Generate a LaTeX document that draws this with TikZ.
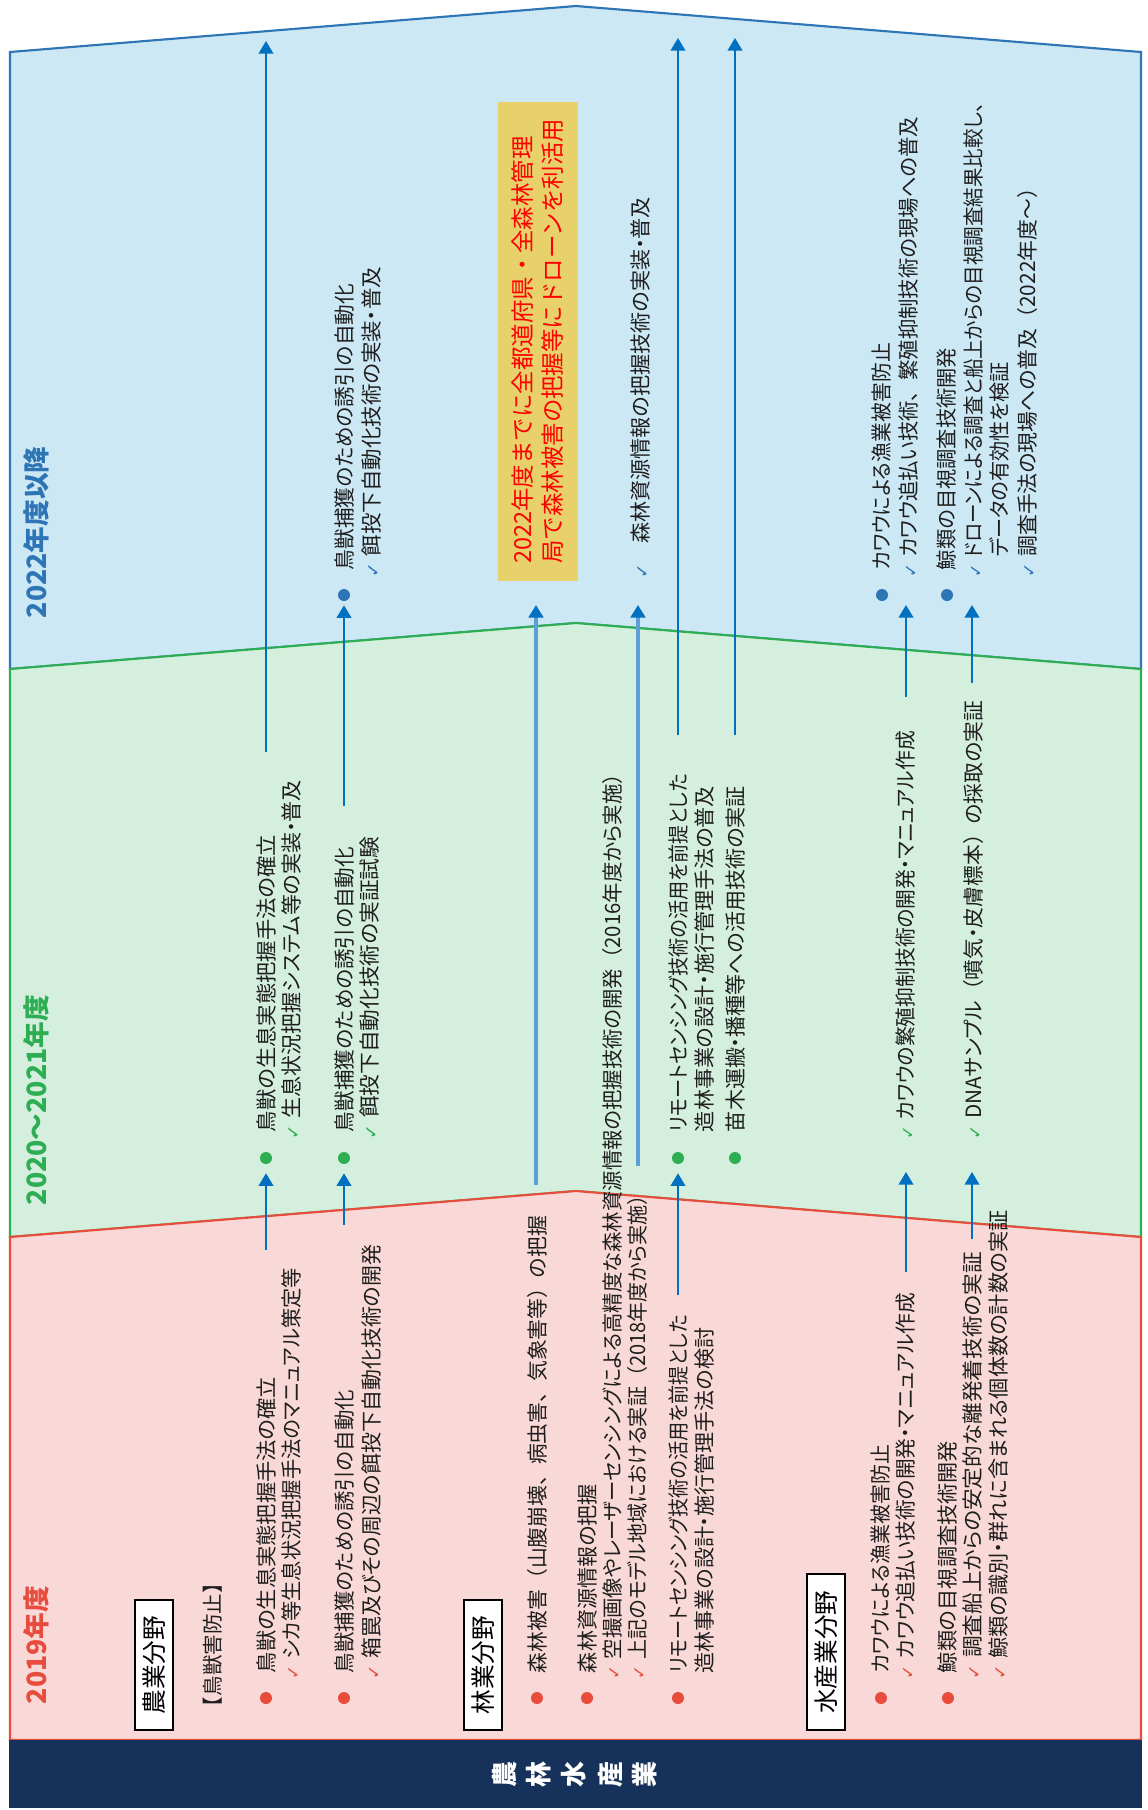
\documentclass[tikz,border=0pt]{standalone}
\usepackage{fontspec}
\usepackage{graphicx}
\newfontfamily\jp{Noto Sans CJK JP}
\newfontfamily\jpp{Noto Sans CJK JP}[RawFeature={+palt}]
\newfontfamily\dv{DejaVu Sans}
\usetikzlibrary{arrows.meta}
\definecolor{bluefill}{HTML}{CDE8F5}
\definecolor{blueline}{HTML}{2E75B6}
\definecolor{greenfill}{HTML}{D5EFDF}
\definecolor{greenline}{HTML}{2EAE52}
\definecolor{redfill}{HTML}{F9D9D7}
\definecolor{redline}{HTML}{E84C3D}
\definecolor{navyband}{HTML}{17325A}
\definecolor{arrowblue}{HTML}{0070C0}
\definecolor{arrowlight}{HTML}{5B9FD6}
\definecolor{boxyellow}{HTML}{E8D06A}
\definecolor{txtc}{HTML}{1E1E1E}
\newdimen\pxu \pxu=0.75pt
\newcommand{\fitpx}[2]{\resizebox{#1\pxu}{\height}{#2}}
\newcommand{\ckm}[1]{{\dv\fontsize{13}{13}\selectfont\color{#1}✓}\hspace{4.5pt}}
\newcommand{\ckph}{\hphantom{{\dv\fontsize{13}{13}\selectfont ✓}\hspace{4.5pt}}}
\newcommand{\fwlp}{{\jp （}}
\newcommand{\fwrp}{{\jp ）}}
\newcommand{\fwc}{{\jp 、}}
\begin{document}
\begin{tikzpicture}[x=0.75pt,y=-0.75pt,
  line/.style={rotate=90,anchor=west,inner sep=0pt,outer sep=0pt,text=txtc,font=\jpp\fontsize{15.8}{18}\selectfont},
  year/.style={rotate=90,anchor=west,inner sep=0pt,outer sep=0pt,font=\jp\bfseries\fontsize{20}{24}\selectfont},
  fieldbox/.style={rotate=90,anchor=west,draw=black,line width=1.3pt,fill=white,minimum height=28.5pt,inner sep=0pt,text=black,font=\jp\fontsize{18.5}{22}\selectfont},
  ybox/.style={rotate=90,anchor=west,fill=boxyellow,inner sep=0pt,minimum width=359pt,minimum height=60pt,align=left,text=red,font=\jp\fontsize{17.6}{22.5}\selectfont},
  bul/.style={circle,inner sep=0pt,minimum size=9pt},
  navyt/.style={rotate=90,inner sep=0pt,text=white,font=\jp\bfseries\fontsize{19.5}{19.5}\selectfont},
  arr/.style={draw=arrowblue,line width=1.5pt,-{Triangle[width=11pt,length=9.5pt]}},
  arrl/.style={draw=arrowlight,line width=3pt,-{Triangle[width=11pt,length=9.5pt,color=arrowblue]}},
  region/.style={line width=1.6pt,line join=miter}
]
\useasboundingbox (0,0) rectangle (1147,1810);

% regions
\draw[region,fill=bluefill,draw=blueline] (10,52) -- (576,6) -- (1141,52) -- (1141,669) -- (576,623) -- (10,669) -- cycle;
\draw[region,fill=greenfill,draw=greenline] (10,669) -- (576,623) -- (1141,669) -- (1141,1237) -- (576,1191) -- (10,1237) -- cycle;
\draw[region,fill=redfill,draw=redline] (10,1237) -- (576,1191) -- (1141,1237) -- (1141,1740) -- (10,1740) -- cycle;
\fill[navyband] (9,1740) rectangle (1142,1808);

% bullets
\node[bul,fill=redline] (rb1) at (266,1698) {};
\node[bul,fill=redline] (rb2) at (344,1698) {};
\node[bul,fill=redline] (rb3) at (537,1698) {};
\node[bul,fill=redline] (rb4) at (587,1698) {};
\node[bul,fill=redline] (rb5) at (678,1698) {};
\node[bul,fill=redline] (rb6) at (881,1698) {};
\node[bul,fill=redline] (rb7) at (948,1698) {};
\node[bul,fill=greenline] (gb1) at (266,1158) {};
\node[bul,fill=greenline] (gb2) at (344,1158) {};
\node[bul,fill=greenline] (gb3) at (678,1158) {};
\node[bul,fill=greenline] (gb4) at (735,1158) {};
\node[bul,fill=blueline] (bb1) at (344,595) {};
\node[bul,fill=blueline] (bb2) at (882,595) {};
\node[bul,fill=blueline] (bb3) at (947,595) {};

% arrow end coordinates
\coordinate (a1s) at (266,1250);
\coordinate (a1m) at (266,752);
\coordinate (a1t) at (266,41);
\coordinate (a2s) at (344,1225);
\coordinate (a2m) at (344,806);
\coordinate (a3s) at (536,1185);
\coordinate (a3t) at (536,605);
\coordinate (a4s) at (638,1166);
\coordinate (a4t) at (638,605);
\coordinate (a5s) at (678,1295);
\coordinate (a5m) at (678,735);
\coordinate (a5t) at (678,38);
\coordinate (a6s) at (735,735);
\coordinate (a6t) at (735,38);
\coordinate (a7s) at (906,1272);
\coordinate (a7m) at (906,1172);
\coordinate (a7n) at (906,697);
\coordinate (a7t) at (906,605);
\coordinate (a8s) at (972,1239);
\coordinate (a8m) at (972,1172);
\coordinate (a8n) at (972,683);
\coordinate (a8t) at (972,605);

% arrows
\draw[arr,shorten >=6.75pt] (a1s) -- (gb1);
\draw[arr] (a1m) -- (a1t);
\draw[arr,shorten >=6.75pt] (a2s) -- (gb2);
\draw[arr,shorten >=3pt] (a2m) -- (bb1);
\draw[arrl] (a3s) -- (a3t);
\draw[arrl] (a4s) -- (a4t);
\draw[arr,shorten >=6.75pt] (a5s) -- (gb3);
\draw[arr] (a5m) -- (a5t);
\draw[arr] (a6s) -- (a6t);
\draw[arr] (a7s) -- (a7m);
\draw[arr] (a7n) -- (a7t);
\draw[arr] (a8s) -- (a8m);
\draw[arr] (a8n) -- (a8t);

% 2019
\node[year,text=redline] (y19) at (36,1704) {2019年度};
\node[fieldbox,minimum width=97.5pt] (f1) at (154,1731) {農業分野};
\node[line,font=\jp\fontsize{15.4}{18}\selectfont] (r0) at (213,1717) {【鳥獣害防止】};
\node[line] (r1) at (266,1673) {\fitpx{296}{鳥獣の生息実態把握手法の確立}};
\node[line] (r1c) at (291,1679) {\fitpx{411}{\ckm{redline}シカ等生息状況把握手法のマニュアル策定等}};
\node[line] (r2) at (344,1673) {\fitpx{283}{鳥獣捕獲のための誘引の自動化}};
\node[line] (r2c) at (372,1679) {\fitpx{434}{\ckm{redline}箱罠及びその周辺の餌投下自動化技術の開発}};
\node[fieldbox,minimum width=97.5pt] (f2) at (483,1731) {林業分野};
\node[line] (r3) at (537,1673) {\fitpx{457}{森林被害\fwlp 山腹崩壊\fwc 病虫害\fwc 気象害等\fwrp の把握}};
\node[line] (r4) at (587,1673) {\fitpx{189}{森林資源情報の把握}};
\node[line] (r4c) at (612,1679) {\fitpx{915}{\ckm{redline}空撮画像やレーザーセンシングによる高精度な森林資源情報の把握技術の開発\fwlp 2016年度から実施\fwrp}};
\node[line] (r4d) at (637,1679) {\fitpx{494}{\ckm{redline}上記のモデル地域における実証\fwlp 2018年度から実施\fwrp}};
\node[line] (r5) at (678,1673) {\fitpx{358}{リモートセンシング技術の活用を前提とした}};
\node[line] (r5b) at (704,1673) {\fitpx{345}{造林事業の設計・施行管理手法の検討}};
\node[fieldbox,minimum width=117pt] (f3) at (826,1731) {水産業分野};
\node[line] (r6) at (881,1673) {\fitpx{228}{カワウによる漁業被害防止}};
\node[line] (r6c) at (906,1679) {\fitpx{386}{\ckm{redline}カワウ追払い技術の開発・マニュアル作成}};
\node[line] (r7) at (948,1673) {\fitpx{232}{鯨類の目視調査技術開発}};
\node[line] (r7c) at (973,1679) {\fitpx{427}{\ckm{redline}調査船上からの安定的な離発着技術の実証}};
\node[line] (r7d) at (999,1679) {\fitpx{469}{\ckm{redline}鯨類の識別・群れに含まれる個体数の計数の実証}};

% 2020-2021
\node[year,text=greenline] (y20) at (36,1205) {2020～2021年度};
\node[line] (g1) at (266,1132) {\fitpx{297}{鳥獣の生息実態把握手法の確立}};
\node[line] (g1c) at (291,1139) {\fitpx{359}{\ckm{greenline}生息状況把握システム等の実装・普及}};
\node[line] (g2) at (344,1132) {\fitpx{285}{鳥獣捕獲のための誘引の自動化}};
\node[line] (g2c) at (370,1139) {\fitpx{302}{\ckm{greenline}餌投下自動化技術の実証試験}};
\node[line] (g3) at (678,1132) {\fitpx{358}{リモートセンシング技術の活用を前提とした}};
\node[line] (g3b) at (704,1132) {\fitpx{346}{造林事業の設計・施行管理手法の普及}};
\node[line] (g4) at (735,1132) {\fitpx{346}{苗木運搬・播種等への活用技術の実証}};
\node[line] (g5c) at (906,1139) {\fitpx{408}{\ckm{greenline}カワウの繁殖抑制技術の開発・マニュアル作成}};
\node[line] (g6c) at (973,1139) {\fitpx{438}{\ckm{greenline}DNAサンプル\fwlp 噴気・皮膚標本\fwrp の採取の実証}};

% 2022-
\node[year,text=blueline] (y22) at (36,618) {2022年度以降};
\node[line] (b1) at (344,570) {\fitpx{286}{鳥獣捕獲のための誘引の自動化}};
\node[line] (b1c) at (372,577) {\fitpx{310}{\ckm{blueline}餌投下自動化技術の実装・普及}};
\node[ybox] (ylw) at (538,581) {2022年度までに全都道府県・全森林管理\\局で森林被害の把握等にドローンを利活用};
\node[line] (b2c) at (641,578) {\fitpx{381}{{\dv\fontsize{13}{13}\selectfont\color{blueline}✓}\hspace{15pt}森林資源情報の把握技術の実装・普及}};
\node[line] (b3) at (882,570) {\fitpx{227}{カワウによる漁業被害防止}};
\node[line] (b3c) at (909,577) {\fitpx{460}{\ckm{blueline}カワウ追払い技術\fwc 繁殖抑制技術の現場への普及}};
\node[line] (b4) at (947,570) {\fitpx{222}{鯨類の目視調査技術開発}};
\node[line] (b4c) at (974,577) {\fitpx{484}{\ckm{blueline}ドローンによる調査と船上からの目視調査結果比較し\fwc}};
\node[line] (b4d) at (999,577) {\fitpx{215}{\ckph データの有効性を検証}};
\node[line] (b4e) at (1027,577) {\fitpx{399}{\ckm{blueline}調査手法の現場への普及\fwlp 2022年度～\fwrp}};

% navy band text
\node[navyt] (n1) at (505,1774) {農};
\node[navyt] (n2) at (539,1774) {林};
\node[navyt] (n3) at (574,1774) {水};
\node[navyt] (n4) at (611,1774) {産};
\node[navyt] (n5) at (645,1774) {業};
\end{tikzpicture}
\end{document}
